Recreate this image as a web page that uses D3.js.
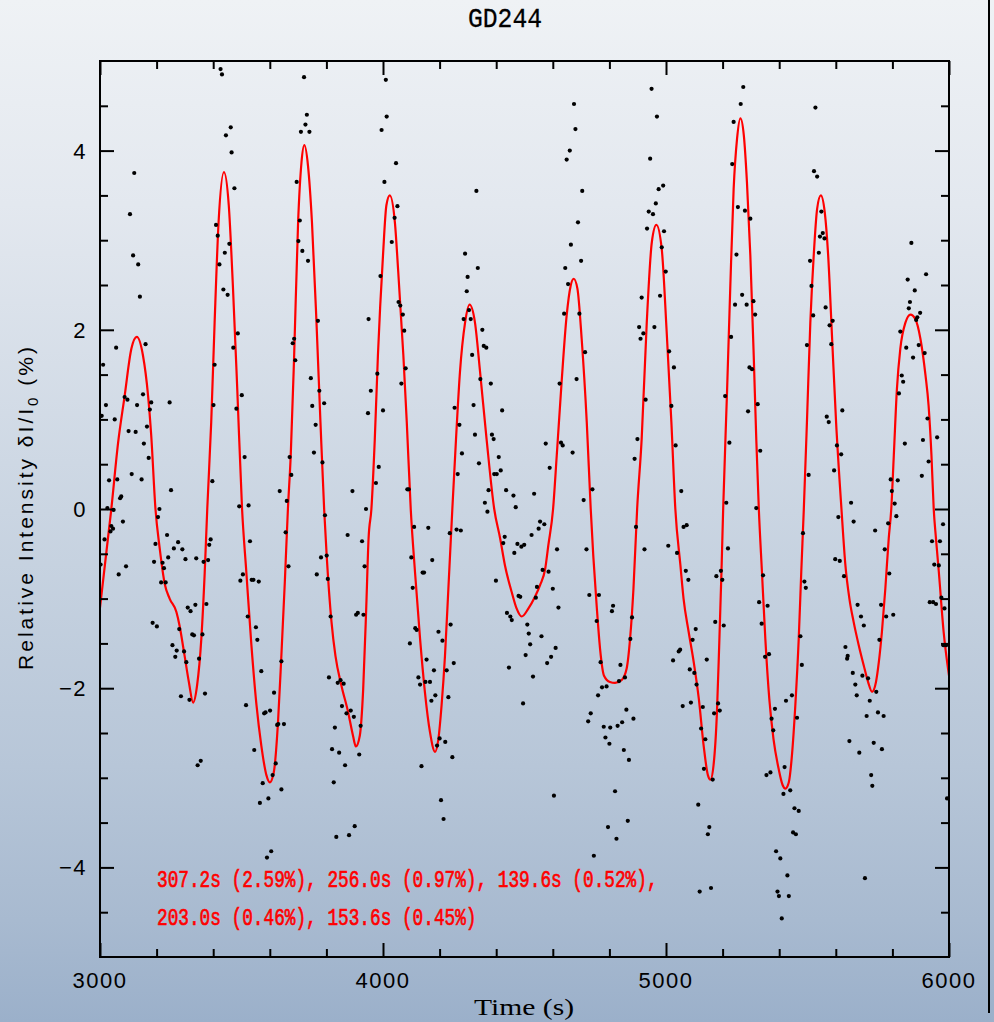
<!DOCTYPE html>
<html>
<head>
<meta charset="utf-8">
<title>GD244</title>
<script src="https://cdn.jsdelivr.net/npm/d3@7"></script>
<style>
  html, body { margin: 0; padding: 0; overflow: hidden; background: #c9d4e1; }
  svg { display: block; }
</style>
</head>
<body>
<svg id="chart" width="994" height="1022"></svg>
<script>
// ---- chart text ----
const title = "GD244";
const xLabel = "Time (s)";
const modeLines = [
  "307.2s (2.59%), 256.0s (0.97%), 139.6s (0.52%),",
  "203.0s (0.46%), 153.6s (0.45%)"
];

// ---- ticks ----
const xMajorTicks = [3000, 4000, 5000, 6000];
const xMinorTicks = [3200, 3400, 3600, 3800, 4200, 4400, 4600, 4800, 5200, 5400, 5600, 5800];
const yMajorTicks = [-4, -2, 0, 2, 4];
const yMinorTicks = [-4.5, -3.5, -3, -2.5, -1.5, -1, -0.5, 0.5, 1, 1.5, 2.5, 3, 3.5, 4.5];

// ---- light curve: time (s), relative intensity (%) ----
const observations = [
  [3426,4.91],[3431,4.85],[3721,4.82],[4010,4.79],[3731,4.40],[3726,4.29],[3710,4.21],[3740,4.21],[4013,4.38],[3995,4.23],
  [3462,4.26],[3445,4.17],[3465,3.98],[3475,3.58],[4005,3.65],[3121,3.75],[3106,3.29],[3117,2.83],[3135,2.73],[3141,2.37],
  [3695,3.65],[3706,3.22],[3701,2.99],[3715,2.88],[3735,2.77],[3410,3.17],[3416,3.05],[3441,2.86],[3457,2.96],[3422,2.73],
  [3436,2.45],[3451,2.39],[3991,2.60],[3770,2.10],[3949,2.12],[3161,1.84],[3057,1.80],[3011,1.61],[3487,1.96],[3471,1.80],
  [3681,1.85],[3686,1.90],[3690,1.66],[3405,1.61],[3745,1.46],[3980,1.51],[3957,1.32],[3775,1.32],[3021,1.16],[3087,1.25],
  [3097,1.22],[3006,1.04],[3052,1.00],[3131,1.16],[3152,1.28],[3181,1.19],[3176,1.11],[3246,1.19],[3401,1.16],[3501,1.27],
  [3482,1.12],[3750,1.15],[3792,1.18],[4000,1.10],[3947,1.07],[3101,0.87],[3126,0.86],[3166,0.92],[3155,0.73],[3172,0.57],
  [3112,0.39],[3147,0.33],[3032,0.32],[3061,0.33],[3075,0.14],[3071,0.12],[3026,0.01],[3048,-0.01],[3251,0.21],[3511,0.58],
  [3492,0.03],[3525,0.04],[3397,0.31],[3762,0.94],[3756,0.63],[3786,0.52],[3670,0.58],[3676,0.38],[3635,0.20],[3660,0.09],
  [3892,0.20],[3985,0.47],[3975,0.29],[3940,0.00],[3210,0.00],
  [4046,3.86],[4051,3.38],[4041,3.25],[4031,2.98],[4055,2.31],[4061,2.27],[4070,2.17],[4075,1.99],[4080,1.57],[4065,1.40],
  [4086,0.22],[4091,0.22],[4330,3.55],[4290,2.85],[4335,2.69],[4299,2.59],[4296,2.43],[4285,2.12],[4304,2.22],[4310,2.12],
  [4351,2.00],[4356,1.82],[4365,1.80],[4315,1.72],[4344,1.45],[4381,1.40],[4320,1.16],[4421,1.10],[4253,1.13],[4270,0.94],
  [4325,0.83],[4385,0.83],[4391,0.78],[4279,0.62],[4339,0.51],[4409,0.58],[4416,0.43],[4393,0.39],[4402,0.39],[4264,0.39],
  [4373,0.21],[4360,0.07],[4435,0.21],[4461,0.15],[4469,0.02],[4534,0.17],[4675,4.52],[4680,4.24],[4660,4.00],[4649,3.90],
  [4704,3.55],[4689,3.20],[4664,2.95],[4700,2.77],[4644,2.69],[4654,2.51],[4640,2.18],[4694,2.18],[4714,1.75],[4684,1.45],
  [4624,1.40],[4575,0.73],[4629,0.74],[4635,0.71],[4670,0.63],[4589,0.46],[4740,0.22],[4709,0.10],[4949,4.69],[4968,4.38],
  [4944,3.91],[4990,3.61],[4974,3.57],[4964,3.41],[4939,3.32],[4954,3.29],[4933,3.13],[4993,3.10],[4985,2.92],[4999,2.65],
  [4914,2.36],[4979,2.38],[4905,2.03],[4920,1.96],[4910,1.90],[4959,2.03],[5011,1.76],[4928,1.22],[4899,0.78],[4889,0.56],
  [5028,1.58],[5019,1.15],[5034,0.71],[5054,0.20],[5273,4.71],[5264,4.52],[5239,4.32],[5234,3.85],[5254,3.37],[5279,3.33],
  [5298,3.24],[5249,2.84],[5269,2.39],[5244,2.28],[5285,2.28],[5309,2.32],[5315,2.17],[5230,1.92],[5295,1.58],[5304,1.56],
  [5209,1.26],[5324,1.17],[5290,1.09],[5224,0.74],[5333,0.65],[5213,0.07],[5319,0.01],[5528,4.48],[5523,3.77],[5534,3.71],
  [5549,3.32],[5544,3.04],[5554,3.08],[5560,3.02],[5540,2.86],[5509,2.77],[5514,2.49],[5520,2.16],[5564,2.25],[5578,2.05],
  [5589,2.10],[5584,1.84],[5498,1.83],[5568,1.03],[5575,0.97],[5623,1.10],[5604,0.71],[5619,0.61],[5594,0.43],[5504,0.38],
  [5654,0.07],[5867,2.97],[5854,2.56],[5919,2.62],[5879,2.44],[5862,2.31],[5858,2.24],[5898,2.19],[5888,2.14],[5884,2.11],
  [5828,1.98],[5849,1.80],[5873,1.69],[5893,1.83],[5914,1.74],[5833,1.49],[5838,1.42],[5823,1.29],[5924,1.01],[5958,0.80],
  [5908,0.77],[5844,0.73],[5928,0.53],[5904,0.37],[5794,0.33],[5819,0.32],[5798,0.20],[5808,0.06],
  [3016,-0.34],[3037,-0.25],[3040,-0.19],[3046,-0.22],[3081,-0.14],[3092,-0.64],[3066,-0.73],[3002,-0.62],[3205,-0.09],[3196,-0.39],
  [3237,-0.29],[3191,-0.59],[3221,-0.60],[3226,-0.66],[3216,-0.82],[3232,-0.82],[3241,-0.54],[3261,-0.44],[3276,-0.37],[3291,-0.45],
  [3302,-0.56],[3340,-0.55],[3366,-0.59],[3382,-0.57],[3386,-0.40],[3391,-0.34],[3186,-1.27],[3201,-1.31],[3310,-1.10],[3320,-1.14],
  [3337,-1.07],[3376,-1.06],[3280,-1.34],[3326,-1.40],[3332,-1.41],[3362,-1.40],[3256,-1.52],[3271,-1.58],[3266,-1.65],[3297,-1.59],
  [3305,-1.71],[3350,-1.67],[3286,-2.09],[3316,-2.13],[3371,-2.06],[3345,-2.86],[3356,-2.81],[3530,-0.36],[3496,-0.80],[3505,-0.73],
  [3536,-0.79],[3542,-0.79],[3561,-0.81],[3522,-1.20],[3551,-1.32],[3556,-1.46],[3570,-1.81],[3516,-2.19],[3580,-2.28],[3585,-2.27],
  [3601,-2.25],[3615,-2.05],[3641,-1.70],[3626,-2.41],[3630,-2.40],[3650,-2.40],[3545,-2.69],[3621,-2.84],[3610,-2.97],[3575,-3.06],
  [3641,-3.13],[3565,-3.28],[3595,-3.23],[3590,-3.89],[3605,-3.82],[3656,-0.26],[3666,-0.64],[3766,-0.73],[3781,-0.54],[3801,-0.52],
  [3795,-0.07],[3805,-0.78],[3815,-1.20],[3809,-1.88],[3840,-1.94],[3850,-1.91],[3861,-1.95],[3855,-2.20],[3871,-2.28],[3886,-2.25],
  [3897,-2.32],[3921,-2.42],[3830,-2.44],[3820,-2.68],[3845,-2.72],[3866,-2.86],[3916,-2.74],[3826,-3.05],[3900,-3.54],[3880,-3.64],
  [3835,-3.66],[3875,-0.29],[3926,-0.36],[3935,-0.64],[3905,-1.18],[3911,-1.16],[3931,-1.18],
  [4110,-0.20],[4160,-0.21],[4100,-0.54],[4174,-0.57],[4140,-0.71],[4145,-0.71],[4105,-0.88],[4114,-1.33],[4119,-1.35],[4095,-1.50],
  [4196,-1.37],[4210,-1.47],[4239,-1.29],[4236,-0.27],[4260,-0.23],[4275,-0.24],[4154,-1.68],[4180,-1.80],[4125,-1.88],[4131,-1.96],
  [4150,-1.93],[4166,-1.93],[4225,-1.80],[4250,-1.72],[4185,-2.08],[4171,-2.14],[4231,-2.10],[4200,-2.56],[4191,-2.64],[4220,-2.60],
  [4245,-2.77],[4136,-2.87],[4205,-3.25],[4214,-3.46],[4369,-0.03],[4425,-0.38],[4430,-0.31],[4399,-0.80],[4464,-0.49],[4475,-0.39],
  [4489,-0.42],[4499,-0.40],[4525,-0.29],[4550,-0.22],[4555,-0.14],[4570,-0.17],[4615,-0.45],[4564,-0.68],[4585,-0.70],[4600,-0.89],
  [4620,-1.10],[4544,-0.87],[4540,-0.99],[4479,-0.97],[4485,-0.98],[4438,-1.16],[4450,-1.20],[4455,-1.24],[4510,-1.29],[4515,-1.39],
  [4560,-1.42],[4520,-1.51],[4504,-1.63],[4610,-1.55],[4594,-1.65],[4580,-1.72],[4530,-1.87],[4445,-1.77],[4495,-2.17],[4604,-3.20],
  [4719,-0.45],[4729,-0.96],[4763,-0.96],[4894,-0.20],[4924,-0.45],[5008,-0.41],[4813,-1.08],[4809,-1.14],[4755,-1.25],[4880,-1.21],
  [4874,-1.45],[4769,-1.71],[4839,-1.74],[4855,-1.88],[4834,-1.92],[4774,-1.99],[4790,-1.98],[4760,-2.08],[4734,-2.28],[4725,-2.37],
  [4860,-2.24],[4885,-2.34],[4780,-2.43],[4803,-2.44],[4829,-2.42],[4845,-2.38],[4786,-2.55],[4800,-2.62],[4851,-2.69],[4869,-2.80],
  [4820,-3.15],[4865,-3.48],[4795,-3.55],[4825,-3.68],[4745,-3.87],
  [5039,-0.49],[5062,-0.20],[5073,-0.18],[5070,-0.69],[5079,-0.79],[5025,-1.69],[5045,-1.59],[5050,-1.57],[5105,-1.34],[5094,-1.46],
  [5084,-1.79],[5100,-1.83],[5108,-1.96],[5059,-2.20],[5088,-2.16],[5130,-2.21],[5144,-1.68],[5124,-2.45],[5139,-2.57],[5134,-2.90],
  [5165,-3.02],[5114,-3.30],[5153,-3.55],[5148,-3.63],[5119,-4.27],[5159,-4.23],[5178,-0.75],[5194,-0.69],[5199,-0.79],[5219,-0.44],
  [5174,-1.26],[5204,-1.30],[5170,-2.28],[5184,-2.17],[5190,-2.25],[5343,-0.74],[5329,-1.04],[5359,-1.08],[5338,-1.28],[5350,-1.65],
  [5364,-1.62],[5373,-2.34],[5379,-2.47],[5385,-2.23],[5424,-2.14],[5445,-2.08],[5463,-2.33],[5355,-2.97],[5369,-2.94],[5419,-2.88],
  [5415,-3.18],[5439,-3.14],[5454,-3.34],[5469,-3.37],[5449,-3.61],[5459,-3.63],[5389,-3.82],[5404,-3.90],[5429,-4.09],[5394,-4.27],
  [5399,-4.32],[5434,-4.32],[5409,-4.57],[5484,-0.27],[5489,-0.81],[5494,-0.88],[5475,-1.42],[5480,-1.74],[5609,-0.09],[5663,-0.14],
  [5598,-0.56],[5614,-0.58],[5629,-0.75],[5739,-0.24],[5785,-0.16],[5814,-0.08],[5773,-0.45],[5789,-0.72],[5677,-1.07],[5689,-1.20],
  [5699,-1.30],[5760,-1.07],[5778,-1.20],[5803,-1.18],[5754,-1.46],[5634,-1.54],[5642,-1.64],[5640,-1.67],[5660,-1.83],[5669,-1.96],
  [5674,-2.08],[5694,-1.86],[5714,-1.89],[5743,-2.04],[5720,-2.14],[5709,-2.31],[5749,-2.27],[5769,-2.31],[5648,-2.59],[5683,-2.72],
  [5734,-2.61],[5763,-2.68],[5725,-2.97],[5729,-3.09],[5703,-4.12],[5940,-0.36],[5968,-0.36],[5979,-0.17],[5948,-0.62],[5964,-0.63],
  [5932,-1.04],[5944,-1.04],[5954,-1.06],[5973,-0.99],[5984,-1.11],[5980,-1.52],[5990,-1.52],[5993,-3.23]
];

// ---- multi-periodic fit, sampled: time (s), relative intensity (%) ----
const fitCurve = [
  [3000,-1.10],[3040,0.00],[3064,0.74],[3087,1.26],[3111,1.79],[3130,1.92],[3152,1.71],[3170,1.26],[3181,0.82],[3196,0.00],
  [3211,-0.44],[3229,-0.84],[3246,-1.00],[3270,-1.15],[3281,-1.30],[3299,-1.64],[3314,-1.93],[3329,-2.16],[3343,-1.97],[3358,-1.45],
  [3370,-0.71],[3379,0.00],[3393,0.97],[3405,2.08],[3419,3.20],[3438,3.76],[3455,3.39],[3470,2.46],[3485,1.34],[3502,0.00],
  [3517,-0.70],[3535,-1.52],[3553,-2.19],[3570,-2.64],[3588,-2.97],[3600,-3.05],[3614,-2.94],[3629,-2.38],[3641,-1.63],[3653,-0.82],
  [3664,0.00],[3674,0.60],[3686,1.71],[3700,3.20],[3712,3.87],[3722,4.06],[3735,3.83],[3749,3.20],[3765,2.08],[3779,0.97],
  [3792,0.00],[3801,-0.52],[3818,-1.26],[3832,-1.64],[3853,-1.97],[3877,-2.27],[3894,-2.53],[3904,-2.65],[3918,-2.53],[3930,-2.01],
  [3941,-1.08],[3949,-0.33],[3959,0.00],[3971,0.78],[3982,1.71],[4000,2.83],[4012,3.39],[4024,3.50],[4042,3.20],[4054,2.64],
  [4072,1.71],[4084,0.97],[4098,0.00],[4113,-0.70],[4131,-1.45],[4148,-2.04],[4166,-2.49],[4184,-2.71],[4196,-2.56],[4207,-2.19],
  [4219,-1.64],[4231,-0.89],[4245,0.00],[4258,0.78],[4272,1.53],[4290,2.08],[4306,2.28],[4325,2.08],[4343,1.53],[4366,0.78],
  [4393,0.00],[4414,-0.33],[4431,-0.63],[4455,-0.93],[4472,-1.11],[4490,-1.20],[4514,-1.11],[4537,-0.98],[4555,-0.85],[4573,-0.67],
  [4584,-0.41],[4601,0.00],[4614,0.60],[4631,1.41],[4649,2.16],[4663,2.49],[4674,2.57],[4687,2.46],[4702,1.90],[4720,0.97],
  [4734,0.00],[4743,-0.52],[4755,-1.08],[4767,-1.56],[4781,-1.86],[4802,-1.93],[4820,-1.94],[4843,-1.91],[4861,-1.78],[4873,-1.45],
  [4885,-0.89],[4898,0.00],[4914,0.78],[4932,2.08],[4950,2.98],[4966,3.17],[4985,2.90],[5002,2.00],[5019,0.97],[5033,0.00],
  [5051,-0.63],[5062,-1.00],[5080,-1.37],[5098,-1.71],[5116,-2.12],[5133,-2.64],[5148,-2.97],[5157,-3.02],[5168,-2.86],[5180,-2.27],
  [5188,-1.52],[5196,-0.70],[5202,0.00],[5216,1.34],[5227,2.46],[5239,3.57],[5251,4.13],[5263,4.36],[5275,4.17],[5286,3.65],
  [5298,2.83],[5310,1.71],[5319,0.78],[5328,0.00],[5339,-0.70],[5351,-1.45],[5365,-2.12],[5380,-2.57],[5398,-2.90],[5412,-3.08],
  [5422,-3.12],[5434,-3.05],[5445,-2.75],[5457,-2.19],[5469,-1.45],[5478,-0.70],[5487,0.00],[5498,0.97],[5510,2.08],[5522,2.83],
  [5534,3.35],[5547,3.50],[5561,3.31],[5573,2.83],[5587,1.90],[5601,0.97],[5620,0.00],[5634,-0.63],[5648,-1.00],[5663,-1.26],
  [5681,-1.52],[5699,-1.75],[5714,-1.93],[5728,-2.04],[5742,-1.93],[5752,-1.71],[5763,-1.37],[5775,-0.89],[5787,-0.33],[5796,0.00],
  [5805,0.60],[5816,1.34],[5828,1.79],[5846,2.08],[5864,2.17],[5881,2.12],[5899,1.90],[5917,1.49],[5928,1.15],[5938,0.60],
  [5946,0.00],[5954,-0.33],[5964,-0.70],[5981,-1.37],[6000,-1.86]
];

// ---- layout ----
const W = 994, H = 1022;
const plot = { left: 100, right: 949, top: 61, bottom: 957 };

const svg = d3.select("#chart");

// page background: soft vertical gradient
const defs = svg.append("defs");
const grad = defs.append("linearGradient").attr("id", "bg")
  .attr("x1", 0).attr("y1", 0).attr("x2", 0).attr("y2", 1);
[[0, "#eff2f5"], [0.2, "#e3e8ef"], [0.5, "#cad5e2"], [0.75, "#b7c6d8"], [0.9, "#a8bad0"], [1, "#9bb0ca"]]
  .forEach(([o, c]) => grad.append("stop").attr("offset", o).attr("stop-color", c));
svg.append("rect").attr("width", W).attr("height", H).attr("fill", "url(#bg)");

// edge rule on the right of the page
svg.append("line").attr("x1", 989).attr("x2", 989).attr("y1", 0).attr("y2", 1013)
  .attr("stroke", "#000").attr("stroke-width", 2);

const x = d3.scaleLinear().domain([3000, 6000]).range([plot.left, plot.right]);
const y = d3.scaleLinear().domain([-5, 5]).range([plot.bottom, plot.top]);

// clip region for the data
defs.append("clipPath").attr("id", "plotClip").append("rect")
  .attr("x", plot.left).attr("y", plot.top)
  .attr("width", plot.right - plot.left).attr("height", plot.bottom - plot.top);

// ---- fit curve ----
const line = d3.line().x(d => x(d[0])).y(d => y(d[1])).curve(d3.curveMonotoneX);
svg.append("path").datum(fitCurve)
  .attr("clip-path", "url(#plotClip)")
  .attr("d", line).attr("fill", "none")
  .attr("stroke", "#ff0000").attr("stroke-width", 2.2).attr("stroke-linejoin", "round");

// ---- observed points ----
svg.append("g").attr("clip-path", "url(#plotClip)")
  .selectAll("circle").data(observations).join("circle")
  .attr("cx", d => x(d[0])).attr("cy", d => y(d[1])).attr("r", 2.1).attr("fill", "#000");

// ---- inward ticks on all four sides ----
function ticks(axis, transform, values, size) {
  const g = svg.append("g").attr("transform", transform)
    .call(axis.tickValues(values).tickSizeInner(size).tickSizeOuter(0).tickFormat(() => ""));
  g.select(".domain").remove();
  g.selectAll("line").attr("stroke", "#000").attr("stroke-width", 2);
}
ticks(d3.axisBottom(x), `translate(0,${plot.bottom})`, xMajorTicks, -14);
ticks(d3.axisBottom(x), `translate(0,${plot.bottom})`, xMinorTicks, -8);
ticks(d3.axisTop(x), `translate(0,${plot.top})`, xMajorTicks, -14);
ticks(d3.axisTop(x), `translate(0,${plot.top})`, xMinorTicks, -8);
ticks(d3.axisLeft(y), `translate(${plot.left},0)`, yMajorTicks, -14);
ticks(d3.axisLeft(y), `translate(${plot.left},0)`, yMinorTicks, -8);
ticks(d3.axisRight(y), `translate(${plot.right},0)`, yMajorTicks, -14);
ticks(d3.axisRight(y), `translate(${plot.right},0)`, yMinorTicks, -8);

// frame
svg.append("rect").attr("x", plot.left).attr("y", plot.top)
  .attr("width", plot.right - plot.left).attr("height", plot.bottom - plot.top)
  .attr("fill", "none").attr("stroke", "#000").attr("stroke-width", 2);

// ---- tick labels ----
const fmt = v => (v < 0 ? "\u2212" + Math.abs(v) : String(v));
const labelFont = "'Liberation Sans', Arial, Helvetica, sans-serif";
svg.append("g").selectAll("text").data(xMajorTicks).join("text")
  .attr("x", d => x(d)).attr("y", 988)
  .attr("text-anchor", "middle")
  .attr("font-family", labelFont).attr("font-size", 22).attr("letter-spacing", 1.5)
  .attr("fill", "#000").text(fmt);
svg.append("g").selectAll("text").data(yMajorTicks).join("text")
  .attr("x", 87).attr("y", d => y(d) + 8)
  .attr("text-anchor", "end")
  .attr("font-family", labelFont).attr("font-size", 22).attr("letter-spacing", 1.5)
  .attr("fill", "#000").text(fmt);

// ---- titles ----
svg.append("text").attr("x", 468).attr("y", 27)
  .attr("font-family", "'Liberation Mono', 'Courier New', monospace")
  .attr("font-size", 28).attr("textLength", 74).attr("lengthAdjust", "spacingAndGlyphs")
  .attr("fill", "#000").attr("stroke", "#000").attr("stroke-width", 0.3).text(title);

svg.append("text").attr("x", 474).attr("y", 1015)
  .attr("font-family", "'Liberation Serif', 'Times New Roman', serif")
  .attr("font-size", 23).attr("textLength", 100).attr("lengthAdjust", "spacingAndGlyphs")
  .attr("fill", "#000").text(xLabel);

const yl = svg.append("text")
  .attr("transform", "translate(33,507) rotate(-90)")
  .attr("text-anchor", "middle")
  .attr("font-family", labelFont).attr("font-size", 21).attr("letter-spacing", 3)
  .attr("fill", "#000");
yl.append("tspan").text("Relative Intensity \u03B4I/I");
yl.append("tspan").attr("font-size", 15).attr("dy", 5).text("0");
yl.append("tspan").attr("dy", -5).text(" (%)");

// ---- mode list ----
svg.append("g").selectAll("text").data(modeLines).join("text")
  .attr("x", 157).attr("y", (d, i) => 887 + i * 38)
  .attr("font-family", "'Liberation Mono', 'Courier New', monospace")
  .attr("font-size", 24)
  .attr("textLength", d => d.length * 10.65).attr("lengthAdjust", "spacingAndGlyphs")
  .attr("fill", "#ff0000").attr("stroke", "#ff0000").attr("stroke-width", 0.7)
  .text(d => d);
</script>
</body>
</html>
